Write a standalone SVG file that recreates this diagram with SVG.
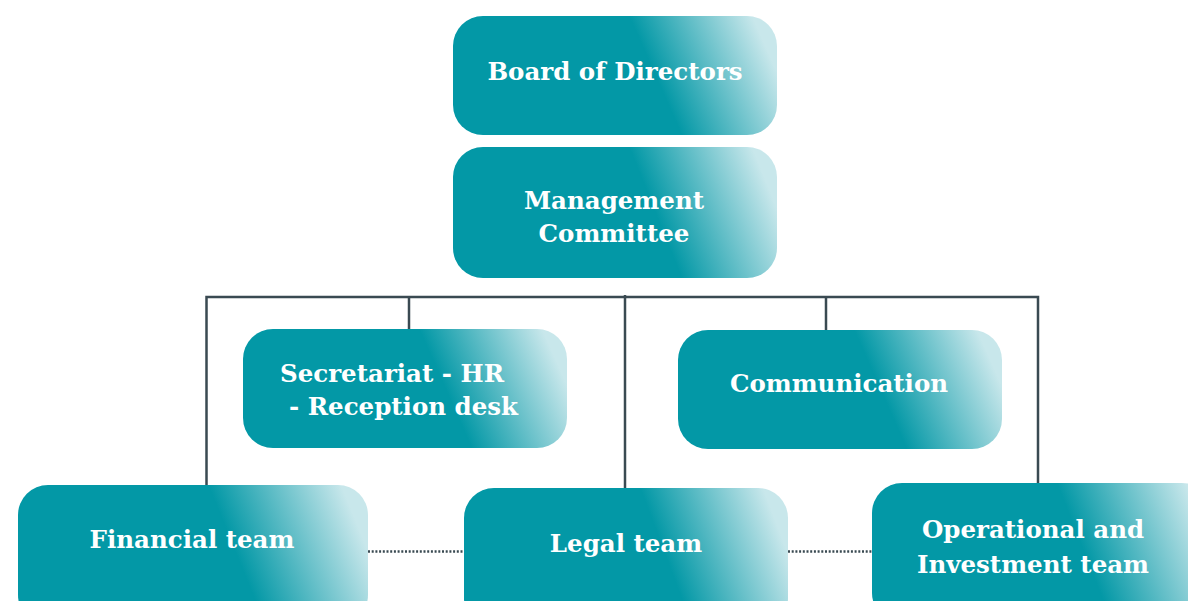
<svg xmlns="http://www.w3.org/2000/svg" width="1188" height="601" viewBox="0 0 1188 601">
<defs>
<linearGradient id="g" x1="0.63" y1="0.53" x2="1" y2="0.47">
<stop offset="0" stop-color="#0398a6"/>
<stop offset="1" stop-color="#c8e7eb"/>
</linearGradient>
<style>
.box{fill:url(#g);}
.t{font-family:"DejaVu Serif","Liberation Serif",serif;font-weight:bold;font-size:24.5px;fill:#ffffff;text-anchor:middle;}
.ts{text-anchor:start;}
.ln{stroke:#3a4a52;stroke-width:2.5;fill:none;}
.dot{stroke:#3a4a52;stroke-width:2.5;fill:none;stroke-dasharray:2 1.7;}
</style>
</defs>
<rect width="1188" height="601" fill="#ffffff"/>
<g id="connectors">
<polyline class="ln" points="206.5,485 206.5,297 1038,297 1038,483"/>
<line class="ln" x1="625" y1="295" x2="625" y2="488"/>
<line class="ln" x1="409" y1="297" x2="409" y2="329"/>
<line class="ln" x1="826" y1="297" x2="826" y2="330"/>
<line class="dot" x1="368" y1="551.5" x2="464" y2="551.5"/>
<line class="dot" x1="788" y1="551.5" x2="872" y2="551.5"/>
</g>
<g id="board">
<rect class="box" x="453" y="16" width="324" height="119" rx="30"/>
<text class="t" x="615" y="80">Board of Directors</text>
</g>
<g id="management">
<rect class="box" x="453" y="147" width="324" height="131" rx="30"/>
<text class="t" x="614" y="209">Management</text>
<text class="t" x="614" y="242">Committee</text>
</g>
<g id="secretariat">
<rect class="box" x="243" y="329" width="324" height="119" rx="30"/>
<text class="t ts" x="280" y="382">Secretariat - HR</text>
<text class="t ts" x="289" y="415">- Reception desk</text>
</g>
<g id="communication">
<rect class="box" x="678" y="330" width="324" height="119" rx="30"/>
<text class="t" x="839" y="392">Communication</text>
</g>
<g id="financial">
<rect class="box" x="18" y="485" width="350" height="140" rx="30"/>
<text class="t" x="192" y="548">Financial team</text>
</g>
<g id="legal">
<rect class="box" x="464" y="488" width="324" height="140" rx="30"/>
<text class="t" x="626" y="552">Legal team</text>
</g>
<g id="operational">
<rect class="box" x="872" y="483" width="340" height="140" rx="30"/>
<text class="t" x="1033" y="538">Operational and</text>
<text class="t" x="1033" y="573">Investment team</text>
</g>
</svg>
